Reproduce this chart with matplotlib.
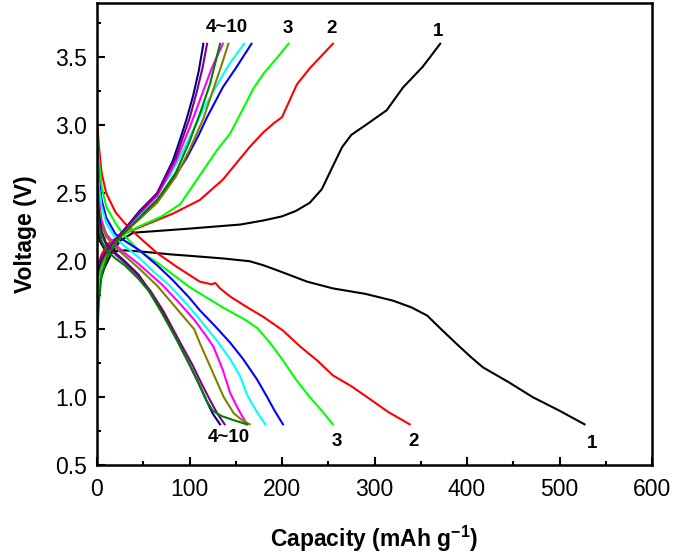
import matplotlib.pyplot as plt

# colours of cycles 1..10 (Origin default order)
colors = ["#000000", "#ff0000", "#00ff00", "#0000ff", "#00ffff",
          "#ff00ff", "#808000", "#000080", "#800080", "#008000"]

# discharge curves: (capacity, voltage)
dis_cap = [
    [0, 3, 8, 15, 30, 50, 80, 100, 137, 165, 180, 200, 227, 255, 290, 320, 340, 357, 372, 389, 405, 417, 445, 471, 500, 527],
    [0, 2, 5, 10, 20, 30, 45, 65, 86, 111, 124, 128, 133, 144, 165, 180, 201, 220, 238, 255, 275, 292, 315, 338],
    [0, 2, 5, 10, 20, 28, 45, 65, 100, 136, 160, 173, 187, 201, 215, 230, 243, 255],
    [0, 2, 5, 10, 20, 30, 46, 65, 82, 100, 111, 128, 144, 158, 173, 184, 192, 201],
    [0, 2, 5, 10, 20, 30, 45, 60, 77, 95, 110, 128, 144, 155, 162, 172, 182],
    [0, 2, 5, 10, 20, 30, 45, 55, 70, 88, 105, 118, 126, 136, 144, 152, 162],
    [0, 2, 5, 10, 20, 30, 45, 65, 80, 95, 105, 111, 124, 137, 148, 157, 165],
    [0, 2, 5, 10, 20, 30, 45, 55, 70, 88, 100, 110, 118, 125, 133],
    [0, 2, 5, 10, 20, 30, 45, 58, 72, 90, 103, 113, 122, 130, 138],
    [0, 2, 5, 10, 20, 30, 45, 56, 70, 88, 100, 110, 118, 125, 135, 148, 162],
]
dis_volt = [
    [2.3, 2.15, 2.09, 2.07, 2.08, 2.07, 2.05, 2.04, 2.02, 2.0, 1.97, 1.92, 1.85, 1.8, 1.76, 1.71, 1.66, 1.6, 1.5, 1.39, 1.29, 1.22, 1.11, 1.0, 0.9, 0.8],
    [3.05, 2.85, 2.65, 2.5, 2.36, 2.28, 2.18, 2.06, 1.96, 1.85, 1.83, 1.84, 1.8, 1.74, 1.65, 1.59, 1.49, 1.37, 1.27, 1.16, 1.08, 1.0, 0.89, 0.8],
    [2.95, 2.75, 2.55, 2.4, 2.28, 2.2, 2.08, 1.99, 1.81, 1.66, 1.57, 1.51, 1.4, 1.27, 1.13, 1.0, 0.9, 0.8],
    [2.85, 2.6, 2.45, 2.32, 2.2, 2.15, 2.08, 1.97, 1.86, 1.73, 1.64, 1.52, 1.40, 1.28, 1.13, 1.0, 0.9, 0.8],
    [2.8, 2.55, 2.4, 2.28, 2.17, 2.11, 2.03, 1.93, 1.83, 1.7, 1.58, 1.43, 1.28, 1.15, 1.02, 0.9, 0.8],
    [2.7, 2.45, 2.3, 2.2, 2.12, 2.06, 1.98, 1.92, 1.83, 1.7, 1.57, 1.45, 1.37, 1.2, 1.03, 0.92, 0.8],
    [2.65, 2.4, 2.27, 2.18, 2.1, 2.04, 1.95, 1.82, 1.7, 1.58, 1.5, 1.4, 1.2, 1.0, 0.88, 0.83, 0.8],
    [2.55, 2.35, 2.22, 2.13, 2.06, 2.0, 1.9, 1.8, 1.64, 1.4, 1.24, 1.1, 0.98, 0.88, 0.8],
    [2.5, 2.3, 2.2, 2.12, 2.05, 1.99, 1.89, 1.78, 1.63, 1.4, 1.24, 1.1, 0.98, 0.88, 0.8],
    [2.5, 2.25, 2.15, 2.08, 2.02, 1.97, 1.87, 1.78, 1.62, 1.4, 1.24, 1.1, 0.98, 0.9, 0.86, 0.83, 0.8],
]

# charge curves
ch_cap = [
    [0, 3, 8, 15, 25, 39, 60, 100, 155, 180, 200, 215, 230, 243, 255, 265, 275, 290, 313, 331, 352, 371],
    [0, 5, 12, 25, 46, 82, 111, 136, 165, 180, 192, 200, 208, 216, 230, 255],
    [0, 2, 5, 12, 28, 50, 70, 90, 110, 130, 144, 160, 169, 180, 195, 207],
    [0, 3, 8, 15, 28, 45, 65, 80, 97, 110, 119, 136, 150, 167],
    [0, 3, 8, 15, 28, 45, 62, 78, 92, 105, 115, 130, 143, 159],
    [0, 3, 8, 15, 28, 46, 65, 85, 100, 112, 124, 136],
    [0, 3, 8, 15, 28, 46, 65, 85, 100, 115, 125, 135, 142],
    [0, 3, 8, 15, 28, 46, 65, 82, 90, 97, 104, 110, 115],
    [0, 3, 8, 15, 28, 46, 65, 85, 100, 108, 114, 119],
    [0, 2, 5, 12, 28, 46, 65, 85, 100, 112, 122, 133],
]
ch_volt = [
    [1.75, 1.85, 1.95, 2.05, 2.15, 2.21, 2.22, 2.24, 2.27, 2.3, 2.33, 2.37, 2.43, 2.53, 2.7, 2.84, 2.93, 3.0, 3.11, 3.28, 3.43, 3.6],
    [1.95, 2.05, 2.13, 2.19, 2.25, 2.35, 2.45, 2.6, 2.84, 2.95, 3.02, 3.06, 3.18, 3.3, 3.42, 3.6],
    [1.5, 1.8, 1.95, 2.08, 2.2, 2.27, 2.33, 2.42, 2.62, 2.82, 2.94, 3.15, 3.27, 3.38, 3.5, 3.6],
    [1.85, 1.95, 2.05, 2.12, 2.22, 2.32, 2.45, 2.58, 2.76, 2.93, 3.06, 3.28, 3.42, 3.6],
    [1.85, 1.95, 2.05, 2.12, 2.22, 2.33, 2.47, 2.62, 2.8, 2.98, 3.12, 3.3, 3.45, 3.6],
    [1.95, 2.0, 2.06, 2.12, 2.22, 2.35, 2.48, 2.73, 2.98, 3.2, 3.42, 3.6],
    [1.85, 1.95, 2.03, 2.1, 2.2, 2.31, 2.43, 2.62, 2.82, 3.05, 3.25, 3.45, 3.6],
    [1.9, 1.98, 2.05, 2.12, 2.22, 2.37, 2.5, 2.74, 2.9, 3.05, 3.22, 3.4, 3.6],
    [1.95, 2.0, 2.06, 2.12, 2.22, 2.36, 2.5, 2.76, 3.05, 3.25, 3.42, 3.6],
    [1.4, 1.7, 1.9, 2.05, 2.2, 2.32, 2.45, 2.65, 2.88, 3.1, 3.3, 3.6],
]

top_labels = ["1", "2", "3", "4~10"]
top_pos = [(369, 3.69), (254, 3.71), (206, 3.71), (140, 3.72)]
bot_labels = ["1", "2", "3", "4~10"]
bot_pos = [(535, 0.66), (342, 0.67), (259, 0.67), (142, 0.70)]

plt.rcParams["font.family"] = ["Liberation Sans", "DejaVu Sans"]
plt.rcParams["mathtext.fontset"] = "custom"
plt.rcParams["mathtext.rm"] = "Liberation Sans"
plt.rcParams["mathtext.bf"] = "Liberation Sans:bold"

fig = plt.figure(figsize=(6.75, 5.55), dpi=100)
ax = fig.add_axes([0.1437, 0.162, 0.8223, 0.8326])

for i in range(10):
    ax.plot(dis_cap[i], dis_volt[i], color=colors[i], lw=1.5)
    ax.plot(ch_cap[i], ch_volt[i], color=colors[i], lw=1.5)

for t, (x, y) in zip(top_labels, top_pos):
    ax.text(x, y, t, ha="center", va="center", fontsize=13.5, fontweight="bold")
for t, (x, y) in zip(bot_labels, bot_pos):
    ax.text(x, y, t, ha="center", va="center", fontsize=13.5, fontweight="bold")

ax.set_xlim(0, 600)
ax.set_ylim(0.5, 3.9)
ax.set_xticks(range(0, 601, 100))
ax.set_xticks(range(50, 600, 100), minor=True)
ax.set_yticks([0.5, 1.0, 1.5, 2.0, 2.5, 3.0, 3.5])
ax.set_yticklabels(["0.5", "1.0", "1.5", "2.0", "2.5", "3.0", "3.5"])
ax.set_yticks([0.75, 1.25, 1.75, 2.25, 2.75, 3.25, 3.75], minor=True)
ax.tick_params(which="both", direction="in", width=1.5, labelsize=16.5,
               top=False, right=False)
ax.tick_params(which="major", length=6)
ax.tick_params(which="minor", length=3)
ax.tick_params(axis="x", pad=9)
ax.tick_params(axis="y", pad=7)
for s in ax.spines.values():
    s.set_linewidth(1.8)

ax.set_xlabel("Capacity (mAh g$^{\\mathbf{-1}}$)", fontsize=16.5, fontweight="bold", labelpad=17)
ax.set_ylabel("Voltage (V)", fontsize=16.5, fontweight="bold", labelpad=13)

fig.savefig("out.png", dpi=100)
